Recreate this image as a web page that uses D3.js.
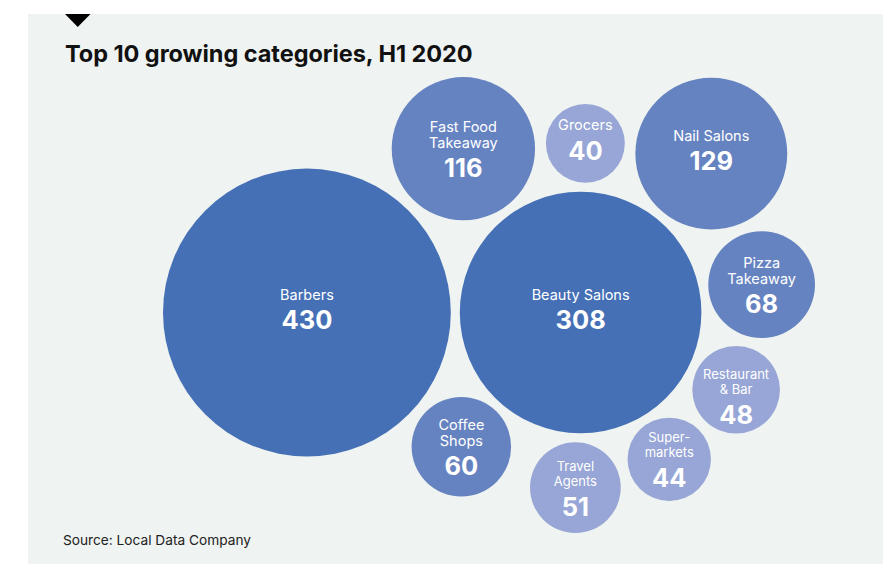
<!DOCTYPE html>
<html>
<head>
<meta charset="utf-8">
<script src="https://cdn.jsdelivr.net/npm/d3@7"></script>
<style>
  html, body { margin: 0; padding: 0; background: #ffffff; }
  svg { display: block; }
  text { font-family: Inter, "Noto Sans", sans-serif; }
</style>
</head>
<body>
<script>
// Net growth in unit counts by category, first half of 2020
const categories = [
  "Barbers", "Beauty Salons", "Fast Food Takeaway", "Grocers", "Nail Salons",
  "Pizza Takeaway", "Restaurant & Bar", "Supermarkets", "Travel Agents", "Coffee Shops"
];
const growth = [430, 308, 116, 40, 129, 68, 48, 44, 51, 60];

// How long names break inside their bubbles
const wrapped = {
  "Fast Food Takeaway": ["Fast Food", "Takeaway"],
  "Pizza Takeaway": ["Pizza", "Takeaway"],
  "Restaurant & Bar": ["Restaurant", "& Bar"],
  "Supermarkets": ["Super-", "markets"],
  "Travel Agents": ["Travel", "Agents"],
  "Coffee Shops": ["Coffee", "Shops"]
};

// Each bubble rests against a hub bubble and the neighbour placed before it
// [bubble, hub, neighbour, turn direction]
const placement = [
  ["Fast Food Takeaway", "Beauty Salons", "Barbers", 1],
  ["Grocers", "Beauty Salons", "Fast Food Takeaway", 1],
  ["Nail Salons", "Beauty Salons", "Grocers", 1],
  ["Pizza Takeaway", "Beauty Salons", "Nail Salons", 1],
  ["Restaurant & Bar", "Beauty Salons", "Pizza Takeaway", 1],
  ["Supermarkets", "Beauty Salons", "Restaurant & Bar", 1],
  ["Travel Agents", "Beauty Salons", "Supermarkets", 1],
  ["Coffee Shops", "Beauty Salons", "Barbers", -1]
];

const W = 890, H = 564;

const svg = d3.select("body").append("svg")
  .attr("width", W).attr("height", H);

// Panel background
svg.append("rect")
  .attr("x", 28).attr("y", 14)
  .attr("width", 855).attr("height", H - 14)
  .attr("fill", "#eff3f1");

// Marker triangle
svg.append("path")
  .attr("d", "M65,14 L90.5,14 L77.75,27 Z")
  .attr("fill", "#000000");

svg.append("text")
  .attr("x", 65).attr("y", 62)
  .attr("font-size", 23.5).attr("font-weight", 700)
  .attr("letter-spacing", -0.05)
  .attr("fill", "#111111")
  .text("Top 10 growing categories, H1 2020");

svg.append("text")
  .attr("x", 63).attr("y", 545)
  .attr("font-size", 13.7)
  .attr("fill", "#222222")
  .text("Source: Local Data Company");

// Area-true bubble sizes, each disc inset from its nominal radius
const rScale = d3.scaleSqrt().domain([0, 430]).range([0, 150.3]);
const inset = 6.4;
const hubGap = 9;        // spacing to the hub bubble
const neighbourGap = 11; // spacing between bubbles around the hub

const colour = d3.scaleThreshold()
  .domain([55, 200])
  .range(["#97a6d6", "#6683c1", "#4570b5"]);

// Small vertical shifts for individual labels
const labelNudge = { "Restaurant & Bar": 6 };

const nodes = categories.map((name, i) => ({
  name,
  value: growth[i],
  r: rScale(growth[i]) - inset
}));
const byName = new Map(nodes.map(d => [d.name, d]));

// Two largest bubbles side by side
const first = byName.get("Barbers");
const second = byName.get("Beauty Salons");
first.x = 0; first.y = 0;
second.x = first.r + second.r + hubGap; second.y = 0;

// Place the rest tangent to a hub and a neighbour (law of cosines)
placement.forEach(([name, hubName, prevName, turn]) => {
  const b = byName.get(name), c = byName.get(hubName), a = byName.get(prevName);
  const dA = c.r + a.r + hubGap, dB = c.r + b.r + hubGap, dAB = a.r + b.r + neighbourGap;
  const theta = Math.acos((dA * dA + dB * dB - dAB * dAB) / (2 * dA * dB));
  const base = Math.atan2(a.y - c.y, a.x - c.x);
  const ang = base + turn * theta;
  b.x = c.x + dB * Math.cos(ang);
  b.y = c.y + dB * Math.sin(ang);
});

// Position the cluster inside the panel
const minX = d3.min(nodes, d => d.x - d.r);
const minY = d3.min(nodes, d => d.y - d.r);
const cluster = svg.append("g")
  .attr("transform", `translate(${163 - minX},${77 - minY})`);

const bubble = cluster.selectAll("g.bubble")
  .data(nodes)
  .join("g")
  .attr("class", "bubble")
  .attr("transform", d => `translate(${d.x},${d.y})`);

bubble.append("circle")
  .attr("r", d => d.r)
  .attr("fill", d => colour(d.value));

bubble.each(function(d) {
  const g = d3.select(this);
  const lines = wrapped[d.name] || [d.name];
  const small = lines.length > 1 && d.r < 47;
  const fs = small ? 13 : 14.5;
  const lh = small ? 15 : 16.5;
  const shift = labelNudge[d.name] || 0;
  const top = (lines.length > 1 ? -17 : -13) + shift;
  lines.forEach((line, i) => {
    g.append("text")
      .attr("text-anchor", "middle")
      .attr("y", top + i * lh)
      .attr("font-size", fs)
      .attr("fill", "#ffffff")
      .text(line);
  });
  g.append("text")
    .attr("text-anchor", "middle")
    .attr("y", (lines.length > 1 ? 28 : 16.5) + shift)
    .attr("font-size", 25.5)
    .attr("font-weight", 700)
    .attr("fill", "#ffffff")
    .text(d.value);
});
</script>
</body>
</html>
